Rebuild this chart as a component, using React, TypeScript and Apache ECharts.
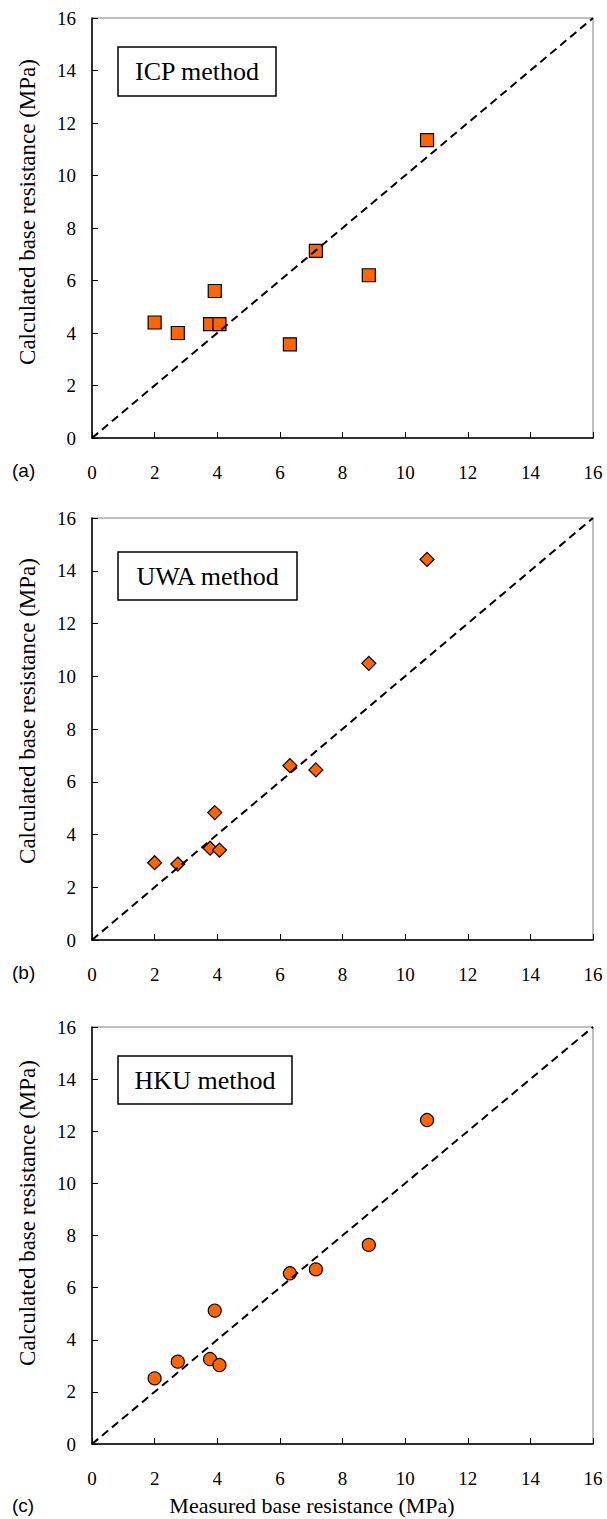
import React, { useEffect, useRef } from "react";
import * as echarts from "echarts";

// Data (MPa)
const measured = [2.0, 2.74, 3.77, 4.07, 3.92, 6.32, 7.15, 8.84, 10.7];
const icpCalc = [4.4, 4.0, 4.34, 4.34, 5.6, 3.57, 7.13, 6.2, 11.35];
const uwaCalc = [2.93, 2.88, 3.48, 3.41, 4.83, 6.61, 6.45, 10.49, 14.43];
const hkuCalc = [2.52, 3.16, 3.26, 3.03, 5.12, 6.55, 6.7, 7.64, 12.43];
const diagonal = [0, 16];
const methodNames = ["ICP method", "UWA method", "HKU method"];
const panelLabels = ["(a)", "(b)", "(c)"];
const symbols = ["rect", "diamond", "circle"];
const symbolSizes = [13, 14, 13];
const axisMin = 0;
const axisMax = 16;
const axisInterval = 2;
const yTitle = "Calculated base resistance (MPa)";
const xTitle = "Measured base resistance (MPa)";

const SERIF = "Liberation Serif";
const SANS = "Liberation Sans";

const gridDefs = [
  { top: 18, height: 420 },
  { top: 518, height: 422 },
  { top: 1027, height: 417 },
];
const boxDefs = [
  { x: 118, y: 47, w: 158, h: 49 },
  { x: 118, y: 552, w: 179, h: 48 },
  { x: 118, y: 1056, w: 174, h: 48 },
];
const yTitleCenters = [212, 711, 1213];
const panelLabelY = [470, 972, 1505];

export default function App() {
  const ref = useRef<HTMLDivElement>(null);
  useEffect(() => {
    if (!ref.current) return;
    const chart = echarts.init(ref.current, undefined, { renderer: "svg" });
    const calcs = [icpCalc, uwaCalc, hkuCalc];

    const grid = gridDefs.map((g) => ({
      left: 92,
      width: 501,
      top: g.top,
      height: g.height,
      show: true,
      borderColor: "#808080",
      borderWidth: 1,
      backgroundColor: "transparent",
      outerBoundsMode: "none",
      containLabel: false,
    }));

    const axisCommon = (isX: boolean, i: number) => ({
      type: "value",
      gridIndex: i,
      min: axisMin,
      max: axisMax,
      interval: axisInterval,
      axisLine: { show: true, onZero: false, lineStyle: { color: "#000", width: 1.5 } },
      axisTick: { show: true, inside: true, length: 6, lineStyle: { color: "#000", width: 1 } },
      axisLabel: {
        margin: isX ? 25 : 16,
        fontSize: 19,
        fontFamily: SERIF,
        color: "#000",
      },
      splitLine: { show: false },
    });

    const series: any[] = [];
    calcs.forEach((vals, i) => {
      series.push({
        type: "scatter",
        xAxisIndex: i,
        yAxisIndex: i,
        symbol: symbols[i],
        symbolSize: symbolSizes[i],
        data: measured.map((m, k) => [m, vals[k]]),
        itemStyle: { color: "#FF6600", borderColor: "#000", borderWidth: 1.2, opacity: 1 },
        z: 2,
      });
      series.push({
        type: "line",
        xAxisIndex: i,
        yAxisIndex: i,
        data: diagonal.map((v) => [v, v]),
        symbol: "none",
        lineStyle: { color: "#000", width: 2, type: [8, 5] },
        z: 3,
        silent: true,
      });
    });

    const graphic: any[] = [];
    boxDefs.forEach((b, i) => {
      graphic.push({
        type: "rect",
        shape: { x: b.x, y: b.y, width: b.w, height: b.h },
        style: { fill: "#fff", stroke: "#000", lineWidth: 1.5 },
        z: 10,
      });
      graphic.push({
        type: "text",
        x: b.x + b.w / 2,
        y: b.y + b.h / 2,
        style: {
          text: methodNames[i],
          fontSize: 26,
          fontFamily: SERIF,
          fill: "#000",
          align: "center",
          verticalAlign: "middle",
        },
        z: 11,
      });
      graphic.push({
        type: "text",
        x: 27,
        y: yTitleCenters[i],
        rotation: Math.PI / 2,
        style: {
          text: yTitle,
          fontSize: 23,
          fontFamily: SERIF,
          fill: "#000",
          align: "center",
          verticalAlign: "middle",
        },
      });
      graphic.push({
        type: "text",
        x: 12,
        y: panelLabelY[i],
        style: {
          text: panelLabels[i],
          fontSize: 19,
          fontFamily: SANS,
          fill: "#000",
          align: "left",
          verticalAlign: "middle",
        },
      });
    });
    graphic.push({
      type: "text",
      x: 312,
      y: 1505,
      style: {
        text: xTitle,
        fontSize: 22,
        fontFamily: SERIF,
        fill: "#000",
        align: "center",
        verticalAlign: "middle",
      },
    });

    chart.setOption({
      animation: false,
      backgroundColor: "#fff",
      textStyle: { fontFamily: SERIF },
      grid,
      xAxis: gridDefs.map((_, i) => axisCommon(true, i)),
      yAxis: gridDefs.map((_, i) => axisCommon(false, i)),
      series,
      graphic,
    });
    return () => chart.dispose();
  }, []);

  return (
    <div
      ref={ref}
      style={{ position: "absolute", left: 0, top: 0, width: 607, height: 1519 }}
    />
  );
}
